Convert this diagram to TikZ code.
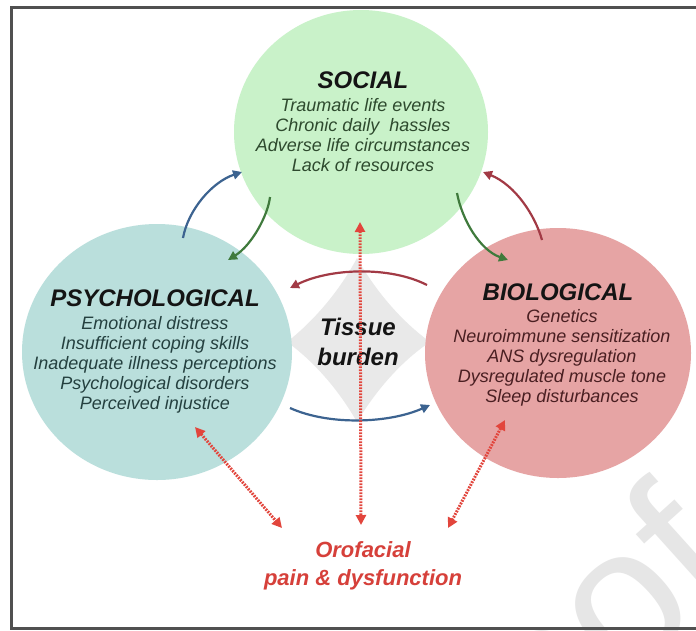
\documentclass[tikz,border=0pt]{standalone}
\usepackage{fontspec}
\setmainfont{Liberation Sans}
\usetikzlibrary{arrows.meta,shapes.geometric,calc}
\definecolor{framegray}{HTML}{505050}
\definecolor{socfill}{HTML}{C9F2C9}
\definecolor{psyfill}{HTML}{BADFDC}
\definecolor{biofill}{HTML}{E6A4A4}
\definecolor{socText}{HTML}{2E4A2E}
\definecolor{psyText}{HTML}{24403F}
\definecolor{bioText}{HTML}{4A1F22}
\definecolor{headText}{HTML}{141414}
\definecolor{arrBlue}{HTML}{3C6390}
\definecolor{arrGreen}{HTML}{3F7A3C}
\definecolor{arrRed}{HTML}{A23A45}
\definecolor{dotRed}{HTML}{E2453C}
\definecolor{oroRed}{HTML}{D6403A}
\definecolor{tissueGray}{HTML}{E9E9E9}
\definecolor{wmGray}{HTML}{E6E6E6}
\tikzset{
  blob/.style={ellipse, inner sep=0pt, draw=none},
  headtxt/.style={font=\fontsize{24}{28}\selectfont\bfseries\itshape, text=headText, inner sep=0pt},
  bodytxt/.style={font=\fontsize{18}{20}\selectfont\itshape, align=center, inner sep=0pt},
  curvarrow/.style={line width=2.2pt, -{Triangle[length=9pt,width=9pt]}},
  dotarrow/.style={draw=dotRed, line width=3pt, dash pattern=on 1.8pt off 1.2pt,
     {Triangle[length=10pt,width=10pt]}-{Triangle[length=10pt,width=10pt]}}
}
\begin{document}
\begin{tikzpicture}[x=1pt,y=-1pt]
\useasboundingbox (0,0) rectangle (696,630);
\fill[white] (0,0) rectangle (696,630);

% faint watermark (cut off by the page edge, as in the reference)
\node[font=\fontsize{196}{196}\selectfont, text=wmGray, rotate=42, anchor=base east, inner sep=0pt] (wm) at (744,577) {oof};

\draw[line width=3pt, draw=framegray] (11,7.5) rectangle (720,628.5);

% tissue burden background
\fill[tissueGray] (357,258) .. controls (375,290) and (400,320) .. (430,342)
  .. controls (400,362) and (375,392) .. (357,422)
  .. controls (340,392) and (315,362) .. (287,342)
  .. controls (315,320) and (340,290) .. (357,258) -- cycle;

% circles
\node[blob, fill=socfill, minimum width=254, minimum height=244] (soc) at (361,132) {};
\node[blob, fill=psyfill, minimum width=270, minimum height=256] (psy) at (157,352) {};
\node[blob, fill=biofill, minimum width=266, minimum height=250] (bio) at (558,353) {};

% texts
\node[headtxt] (socH) at (363,80) {SOCIAL};
\node[bodytxt, text=socText, anchor=north] (socB) at (363,98) {Traumatic life events\\Chronic daily\ \ hassles\\Adverse life circumstances\\Lack of resources};
\node[headtxt] (psyH) at (155,298) {PSYCHOLOGICAL};
\node[bodytxt, text=psyText, anchor=north] (psyB) at (155,316) {Emotional distress\\Insufficient coping skills\\Inadequate illness perceptions\\Psychological disorders\\Perceived injustice};
\node[headtxt] (bioH) at (558,292) {BIOLOGICAL};
\node[bodytxt, text=bioText, anchor=north] (bioB) at (562,309) {Genetics\\Neuroimmune sensitization\\ANS dysregulation\\Dysregulated muscle tone\\Sleep disturbances};
\node[font=\fontsize{24}{30}\selectfont\bfseries\itshape, text=headText, align=center, inner sep=0pt] (tis) at (358,342) {Tissue\\burden};
\node[font=\fontsize{22}{28}\selectfont\bfseries\itshape, text=oroRed, align=center, inner sep=0pt] (oro) at (363,566) {Orofacial\\pain \& dysfunction};

% curved arrows between domains
\draw[curvarrow, draw=arrBlue] ($(psy.center)+(26,-114)$) .. controls (188,210) and (212,182) .. ($(soc.center)+(-119,40)$);
\draw[curvarrow, draw=arrGreen] ($(soc.center)+(-91,65)$) .. controls (268,215) and (252,245) .. ($(psy.center)+(71,-92)$);
\draw[curvarrow, draw=arrGreen] ($(soc.center)+(96,61)$) .. controls (462,220) and (480,250) .. ($(bio.center)+(-50,-93)$);
\draw[curvarrow, draw=arrRed] ($(bio.center)+(-16,-113)$) .. controls (535,215) and (515,185) .. ($(soc.center)+(122,40)$);
\draw[curvarrow, draw=arrRed] ($(bio.center)+(-131,-68)$) .. controls (390,266) and (330,268) .. ($(psy.center)+(133,-64)$);
\draw[curvarrow, draw=arrBlue] ($(psy.center)+(133,56)$) .. controls (330,426) and (390,423) .. ($(bio.center)+(-128,52)$);

% dotted double arrows to orofacial pain
\draw[dotarrow] ($(soc.center)+(-1,90)$) -- ($(oro.center)+(-2,-41)$);
\draw[dotarrow] ($(psy.center)+(38,75)$) -- ($(oro.center)+(-81,-38)$);
\draw[dotarrow] ($(bio.center)+(-53,67)$) -- ($(oro.center)+(85,-38)$);
\end{tikzpicture}
\end{document}
